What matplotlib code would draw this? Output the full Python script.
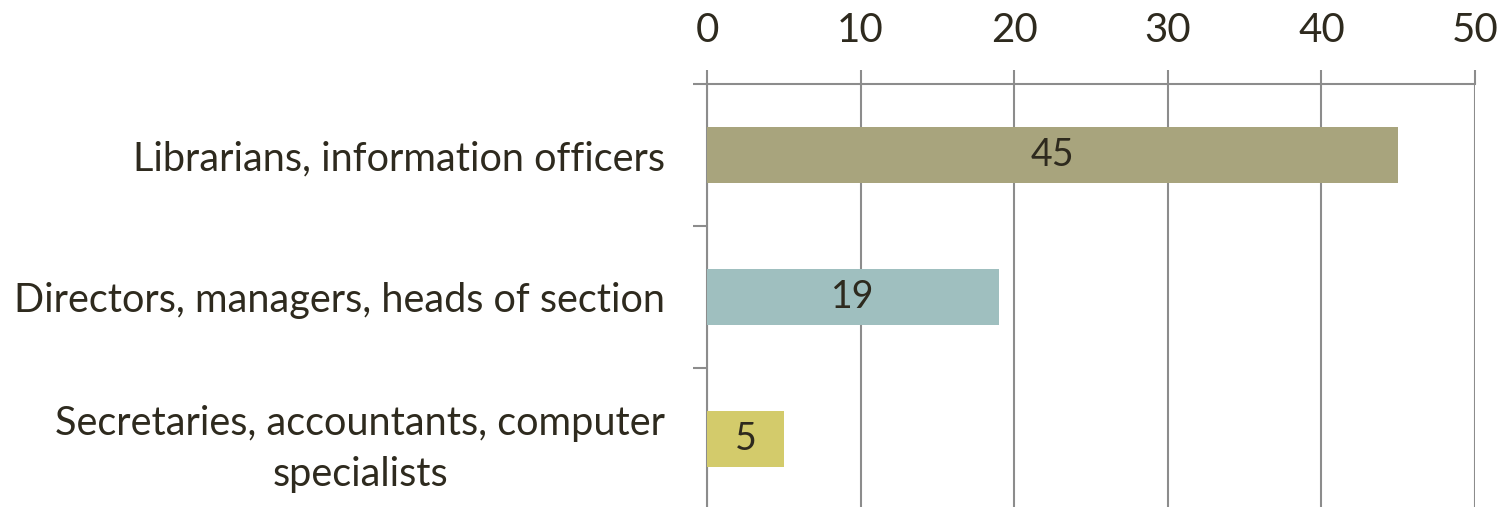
import numpy as np
import matplotlib.pyplot as plt
from matplotlib.ticker import FixedLocator

# data
categories = ['Librarians, information officers',
              'Directors, managers, heads of section',
              'Secretaries, accountants, computer\nspecialists']
values = [45, 19, 5]
bar_colors = ['#A8A47D', '#9FBFBF', '#D3CB6B']
xticks = [0, 10, 20, 30, 40, 50]

txt_col = '#2E2A1E'
grid_col = '#8C8C8C'
plt.rcParams['font.family'] = ['Lato', 'DejaVu Sans']

fig = plt.figure(figsize=(15.01, 5.07), dpi=100)
ax = fig.add_axes([707/1501, (507-510)/507, (1475-707)/1501, 426/507])

y = np.arange(len(categories))
bars = ax.barh(y, values, height=0.4, color=bar_colors, zorder=3)
ax.bar_label(bars, labels=[str(v) for v in values], label_type='center',
             fontsize=27, color=txt_col)

ax.set_xlim(0, 50)
ax.set_ylim(2.5, -0.5)

ax.xaxis.tick_top()
ax.set_xticks(xticks)
ax.tick_params(axis='x', which='major', length=10, width=1.5, color=grid_col,
               pad=15, labelsize=29, labelcolor=txt_col)
ax.grid(axis='x', color=grid_col, linewidth=1.5, zorder=0)

ax.set_yticks(y)
ax.set_yticklabels(categories, multialignment='center', linespacing=1.45)
ax.yaxis.set_minor_locator(FixedLocator([-0.5, 0.5, 1.5, 2.5]))
ax.tick_params(axis='y', which='major', length=0, pad=30, labelsize=28.5,
               labelcolor=txt_col)
ax.tick_params(axis='y', which='minor', length=10, width=1.5, color=grid_col)

for s in ['right', 'bottom']:
    ax.spines[s].set_visible(False)
for s in ['top', 'left']:
    ax.spines[s].set_color(grid_col)
    ax.spines[s].set_linewidth(1.5)

fig.savefig('out.png', dpi=100)
